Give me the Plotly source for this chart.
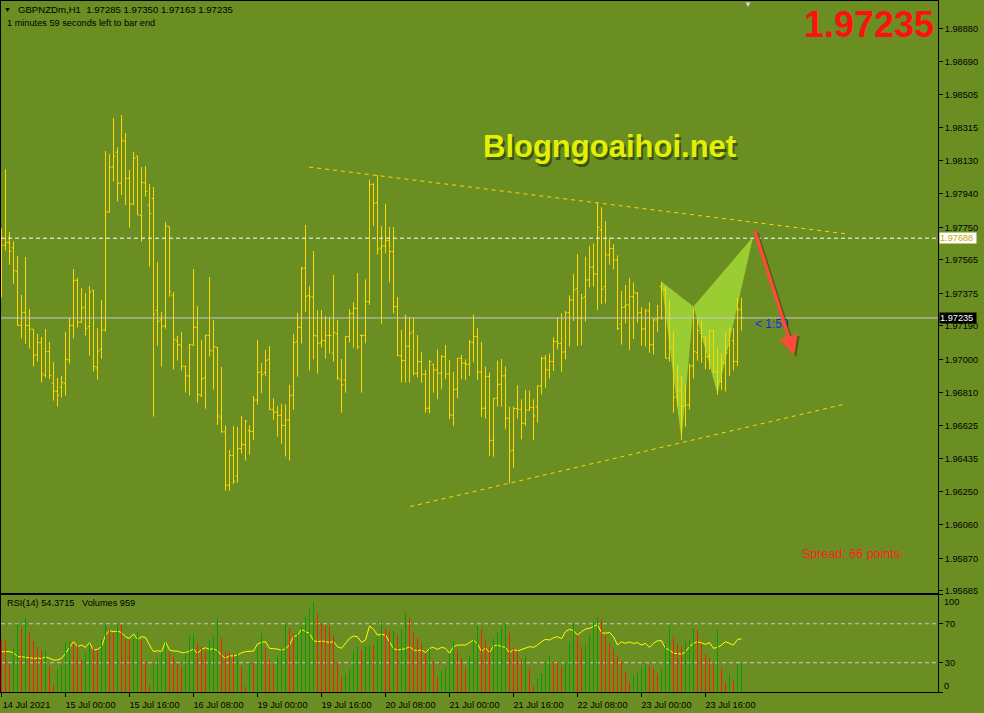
import plotly.graph_objects as go

symbol = "GBPNZDm,H1"

# H1 bars, oldest first (14 Jul 2021 08:00 .. 23 Jul 2021)
opens = [
    1.97413, 1.97648, 1.97663, 1.97633, 1.97500, 1.97193, 1.97267, 1.97193, 1.97171, 1.97027,
    1.97095, 1.96909, 1.97044, 1.96864, 1.96819, 1.96841, 1.96864, 1.96997, 1.97193, 1.97449,
    1.97212, 1.97296, 1.97186, 1.97392, 1.96951, 1.97057, 1.97167, 1.97837, 1.98094, 1.98176,
    1.98000, 1.98238, 1.98028, 1.97882, 1.98155, 1.97818, 1.98003, 1.97875, 1.97913, 1.97278,
    1.97224, 1.97190, 1.97754, 1.97364, 1.97106, 1.97080, 1.96961, 1.96906, 1.97080, 1.97182,
    1.96796, 1.96894, 1.97136, 1.97049, 1.97068, 1.96667, 1.96588, 1.96285, 1.96455, 1.96338,
    1.96493, 1.96516, 1.96595, 1.96591, 1.96769, 1.96928, 1.96925, 1.97000, 1.96716, 1.96701,
    1.96682, 1.96625, 1.96656, 1.96796, 1.97102, 1.97182, 1.97517, 1.97362, 1.97354, 1.97133,
    1.97095, 1.97106, 1.97136,
    1.97034, 1.97144, 1.96883, 1.96883, 1.97129, 1.97261, 1.97290, 1.97136, 1.97136, 1.97328,
    1.97994, 1.97890, 1.97632, 1.97644, 1.97674, 1.97612, 1.97299, 1.97021, 1.96993, 1.97074,
    1.97157, 1.96921, 1.96987, 1.96915, 1.96722, 1.96972, 1.96940, 1.96921, 1.97015, 1.96917,
    1.96684, 1.96830, 1.97006, 1.96978, 1.96972, 1.97097, 1.97129, 1.96928, 1.96722, 1.96902,
    1.96540, 1.96779, 1.96858, 1.96906, 1.96665, 1.96485, 1.96720, 1.96716, 1.96637, 1.96711,
    1.96726, 1.96731, 1.96849, 1.97006, 1.96940, 1.96987, 1.97101, 1.97091, 1.97042, 1.97265,
    1.97337, 1.97403, 1.97233, 1.97356, 1.97451, 1.97523, 1.97485, 1.97735, 1.97413, 1.97593,
    1.97629, 1.97564, 1.97201, 1.97299, 1.97309, 1.97356, 1.97375, 1.97265, 1.97173, 1.97275,
    1.97082, 1.97224,
    1.97413, 1.97398, 1.97006, 1.97072, 1.96785, 1.96822, 1.96737, 1.96741, 1.96962, 1.97038,
    1.97148, 1.97129, 1.97015, 1.97163, 1.96928, 1.96874, 1.96981, 1.97076, 1.97106, 1.96987,
    1.97285,
]
highs = [
    1.97744, 1.98079, 1.97723, 1.97670, 1.97587, 1.97366, 1.97581, 1.97286, 1.97171, 1.97144,
    1.97127, 1.97173, 1.97099, 1.96985, 1.96894, 1.96906, 1.97156, 1.97235, 1.97513, 1.97462,
    1.97405, 1.97377, 1.97417, 1.97394, 1.97178, 1.97337, 1.98183, 1.98166, 1.98371, 1.98204,
    1.98388, 1.98286, 1.98075, 1.98178, 1.98155, 1.98092, 1.98098, 1.97996, 1.97979, 1.97553,
    1.97269, 1.97780, 1.97754, 1.97381, 1.97133, 1.97157, 1.96962, 1.97087, 1.97513, 1.97303,
    1.97110, 1.97140, 1.97468, 1.97224, 1.97070, 1.96957, 1.96625, 1.96485, 1.96622, 1.96616,
    1.96678, 1.96656, 1.96624, 1.96792, 1.97110, 1.96979, 1.97053, 1.97076, 1.96779, 1.96735,
    1.96747, 1.96743, 1.96855, 1.97144, 1.97263, 1.97525, 1.97763, 1.97417, 1.97616, 1.97279,
    1.97280, 1.97246, 1.97239,
    1.97479, 1.97224, 1.97002, 1.97133, 1.97286, 1.97326, 1.97490, 1.97140, 1.97454, 1.98022,
    1.97999, 1.98047, 1.97757, 1.97882, 1.97752, 1.97752, 1.97354, 1.97167, 1.97254, 1.97239,
    1.97239, 1.97138, 1.97042, 1.96940, 1.96996, 1.96972, 1.97057, 1.97025, 1.97082, 1.96996,
    1.96930, 1.97008, 1.97025, 1.97000, 1.97110, 1.97254, 1.97176, 1.97099, 1.96959, 1.96925,
    1.96779, 1.96993, 1.97002, 1.96959, 1.96731, 1.96731, 1.96853, 1.96773, 1.96826, 1.96822,
    1.96773, 1.96851, 1.97015, 1.97025, 1.97034, 1.97125, 1.97237, 1.97261, 1.97275, 1.97364,
    1.97485, 1.97598, 1.97373, 1.97583, 1.97644, 1.97659, 1.97892, 1.97863, 1.97786, 1.97693,
    1.97653, 1.97591, 1.97388, 1.97422, 1.97462, 1.97436, 1.97383, 1.97297, 1.97288, 1.97324,
    1.97231, 1.97309,
    1.97441, 1.97413, 1.97337, 1.97157, 1.96968, 1.96906, 1.96855, 1.96974, 1.97290, 1.97228,
    1.97224, 1.97129, 1.97167, 1.97167, 1.97063, 1.97034, 1.97157, 1.97182, 1.97176, 1.97347,
    1.97350,
]
lows = [
    1.97351, 1.97617, 1.97538, 1.97430, 1.97191, 1.97118, 1.97089, 1.97061, 1.96959, 1.96987,
    1.96868, 1.96896, 1.96887, 1.96766, 1.96731, 1.96783, 1.96794, 1.96976, 1.97118, 1.97180,
    1.97208, 1.97135, 1.97021, 1.96930, 1.96885, 1.97004, 1.97157, 1.97833, 1.98009, 1.97896,
    1.97933, 1.97877, 1.97748, 1.97877, 1.97820, 1.97668, 1.97924, 1.97526, 1.96675, 1.97076,
    1.96959, 1.97174, 1.97356, 1.96942, 1.96993, 1.96936, 1.96811, 1.96794, 1.97078, 1.96754,
    1.96786, 1.96720, 1.97015, 1.96828, 1.96627, 1.96584, 1.96254, 1.96254, 1.96292, 1.96300,
    1.96463, 1.96425, 1.96459, 1.96542, 1.96743, 1.96809, 1.96904, 1.96713, 1.96656, 1.96561,
    1.96521, 1.96448, 1.96425, 1.96714, 1.96902, 1.97089, 1.97269, 1.96936, 1.97000, 1.96919,
    1.97068, 1.97004, 1.97034,
    1.96987, 1.96883, 1.96697, 1.96811, 1.97095, 1.97066, 1.97057, 1.96811, 1.97091, 1.97309,
    1.97757, 1.97596, 1.97203, 1.97602, 1.97436, 1.97261, 1.97019, 1.96868, 1.96868, 1.96868,
    1.96909, 1.96898, 1.96868, 1.96697, 1.96692, 1.96811, 1.96773, 1.96830, 1.96887, 1.96660,
    1.96622, 1.96779, 1.96887, 1.96883, 1.96906, 1.96983, 1.96883, 1.96673, 1.96663, 1.96451,
    1.96447, 1.96731, 1.96731, 1.96603, 1.96296, 1.96385, 1.96663, 1.96546, 1.96622, 1.96709,
    1.96542, 1.96641, 1.96801, 1.96839, 1.96890, 1.96934, 1.97057, 1.96930, 1.97000, 1.97072,
    1.97218, 1.97076, 1.97080, 1.97214, 1.97409, 1.97413, 1.97280, 1.97314, 1.97318, 1.97538,
    1.97511, 1.97167, 1.97084, 1.97205, 1.97053, 1.97116, 1.97208, 1.97078, 1.97072, 1.97038,
    1.97027, 1.97157,
    1.97224, 1.97006, 1.96987, 1.96697, 1.96732, 1.96542, 1.96618, 1.96716, 1.96892, 1.96993,
    1.96981, 1.96944, 1.96940, 1.96925, 1.96798, 1.96826, 1.96817, 1.96906, 1.96936, 1.96962,
    1.97163,
]
closes = [
    1.97648, 1.97663, 1.97614, 1.97504, 1.97193, 1.97267, 1.97193, 1.97171, 1.97023, 1.97095,
    1.96917, 1.97044, 1.96909, 1.96819, 1.96796, 1.96868, 1.97000, 1.97193, 1.97449, 1.97210,
    1.97290, 1.97176, 1.97381, 1.96959, 1.97046, 1.97167, 1.97837, 1.98092, 1.98153, 1.98000,
    1.98242, 1.98028, 1.97882, 1.98142, 1.97820, 1.98003, 1.97954, 1.97829, 1.97256, 1.97216,
    1.97186, 1.97757, 1.97383, 1.97114, 1.97084, 1.96961, 1.96906, 1.97084, 1.97182, 1.96800,
    1.96890, 1.97136, 1.97049, 1.97072, 1.96678, 1.96588, 1.96285, 1.96455, 1.96307, 1.96493,
    1.96516, 1.96648, 1.96591, 1.96769, 1.96925, 1.96913, 1.96993, 1.96716, 1.96701, 1.96682,
    1.96625, 1.96656, 1.96796, 1.97095, 1.97182, 1.97517, 1.97358, 1.97354, 1.97136, 1.97091,
    1.97106, 1.97136, 1.97136,
    1.97152, 1.96894, 1.96856, 1.97129, 1.97261, 1.97290, 1.97072, 1.97136, 1.97328, 1.97994,
    1.97886, 1.97625, 1.97644, 1.97674, 1.97612, 1.97299, 1.97021, 1.96993, 1.97074, 1.97148,
    1.96921, 1.96987, 1.96915, 1.96722, 1.96987, 1.96940, 1.96921, 1.97015, 1.96917, 1.96684,
    1.96830, 1.97006, 1.96978, 1.96972, 1.97097, 1.97129, 1.96928, 1.96722, 1.96902, 1.96540,
    1.96779, 1.96858, 1.96906, 1.96665, 1.96480, 1.96720, 1.96716, 1.96637, 1.96711, 1.96726,
    1.96678, 1.96849, 1.97006, 1.96940, 1.96987, 1.97101, 1.97091, 1.97042, 1.97265, 1.97337,
    1.97394, 1.97233, 1.97347, 1.97451, 1.97523, 1.97485, 1.97750, 1.97398, 1.97593, 1.97629,
    1.97564, 1.97176, 1.97294, 1.97309, 1.97356, 1.97381, 1.97265, 1.97173, 1.97275, 1.97085,
    1.97224, 1.97233,
    1.97398, 1.97006, 1.97072, 1.96785, 1.96822, 1.96732, 1.96741, 1.96962, 1.97044, 1.97163,
    1.97129, 1.97015, 1.97163, 1.96928, 1.96874, 1.96981, 1.97038, 1.97167, 1.96987, 1.97281,
    1.97235,
]
volumes = [
    1815, 1781, 982, 1496, 2352, 2192, 2534, 2032, 1747, 1530,
    1427, 1438, 890, 240, 788, 925, 1690, 1724, 1667, 1610,
    1096, 1324, 1667, 1530, 1438, 1781, 2295, 2124, 2009, 2352,
    2306, 1815, 1781, 1838, 2066, 1781, 1039, 217, 925, 1153,
    1381, 1724, 1381, 1210, 982, 868, 1347, 1918, 2009, 1667,
    1553, 1381, 1781, 1895, 2500, 1838, 1381, 1381, 1267, 1324,
    868, 183, 1005, 1005, 1553, 2009, 1496, 1096, 925, 1267,
    1496, 2352, 2181, 2009, 2066, 2238, 2580, 2843, 3094, 2672,
    2329, 2295, 2238,
    1918, 1039, 502, 639, 753, 1381, 1530, 1438, 1553, 1610,
    1610, 1895, 2397, 2181, 2066, 2101, 1952, 2146, 2717, 2523,
    2066, 1861, 1667, 1324, 1496, 1073, 502, 719, 833, 1324,
    1747, 1461, 1153, 810, 1244, 1804, 2260, 2146, 1804, 1530,
    1838, 2032, 2260, 2352, 2009, 1530, 1404, 1130, 1244, 810,
    205, 468, 639, 1016, 1267, 1016, 1016, 845, 1027, 1690,
    2352, 1941, 1553, 1610, 1975, 2409, 2557, 2489, 1952, 1667,
    1461, 1256, 1062, 696, 354, 548, 662, 845, 982, 913,
    788, 639,
    788, 1644, 2272, 1895, 1644, 1575, 1724, 1781, 2181, 2124,
    1667, 1301, 1153, 959, 2146, 810, 354, 639, 411, 925,
    959,
]
rsi = [
    41.4, 41.4, 41.4, 40.3, 36.2, 36.2, 35.5, 35.5, 34.5, 34.9,
    34.2, 36.2, 34.5, 32.8, 32.8, 34.5, 39.6, 45.8, 51.6, 46.5,
    48.2, 45.8, 50.6, 43.1, 43.7, 46.5, 58.4, 62.9, 61.9, 62.5,
    60.8, 56.7, 55.0, 59.5, 54.0, 56.7, 56.0, 48.2, 41.4, 42.4,
    41.4, 51.6, 43.1, 42.0, 42.0, 40.3, 40.3, 42.0, 44.1, 39.6,
    43.7, 45.4, 43.7, 44.4, 42.4, 37.9, 34.5, 37.2, 36.9, 37.9,
    40.3, 41.4, 41.4, 42.0, 49.2, 50.9, 51.6, 44.8, 44.4, 44.1,
    42.7, 44.4, 48.2, 56.7, 58.4, 64.3, 61.9, 60.2, 52.6, 51.6,
    52.3, 51.6, 50.9,
    51.6, 46.5, 44.8, 49.9, 55.0, 57.4, 56.7, 50.9, 53.3, 67.7,
    64.3, 58.4, 59.1, 58.4, 50.6, 44.4, 43.1, 43.7, 44.4, 46.5,
    43.1, 42.4, 43.1, 40.3, 44.8, 45.8, 43.7, 45.8, 44.8, 39.6,
    46.5, 48.2, 48.2, 48.2, 50.6, 53.3, 49.2, 41.4, 45.4, 40.3,
    47.2, 48.2, 46.5, 45.8, 40.3, 43.7, 42.0, 43.7, 45.4, 46.5,
    45.8, 48.2, 51.6, 54.0, 53.3, 55.7, 56.7, 54.7, 61.9, 64.3,
    62.9, 58.4, 61.9, 64.6, 65.3, 67.0, 69.0, 60.8, 60.2, 61.2,
    56.7, 48.2, 51.6, 49.9, 51.3, 49.9, 50.6, 48.2, 49.9, 45.8,
    49.9, 52.6,
    52.6, 44.8, 43.1, 39.6, 39.6, 38.6, 41.4, 46.5, 49.9, 51.6,
    49.9, 48.9, 50.6, 44.8, 45.8, 48.2, 51.6, 49.9, 48.2, 54.0,
    54.3715,
]

# time axis labels (bar number -> label)
time_ticks = [0, 16, 32, 48, 64, 80, 96, 112, 128, 144, 160, 176]
time_labels = ["14 Jul 2021", "15 Jul 00:00", "15 Jul 16:00", "16 Jul 08:00",
               "19 Jul 00:00", "19 Jul 16:00", "20 Jul 08:00", "21 Jul 00:00",
               "21 Jul 16:00", "22 Jul 08:00", "23 Jul 00:00", "23 Jul 16:00"]
price_ticks = [1.98880, 1.98690, 1.98505, 1.98315, 1.98130, 1.97940, 1.97750, 1.97565,
               1.97375, 1.97190, 1.97000, 1.96810, 1.96625, 1.96435, 1.96250, 1.96060,
               1.95870, 1.95685]
rsi_levels = [30, 70]

# drawn objects (bar number, price)
level_line = 1.97688
upper_trend_x = [76.9, 211.4]
upper_trend_y = [1.98092, 1.97712]
lower_trend_x = [102.2, 210.9]
lower_trend_y = [1.96164, 1.96746]
pattern_x = [165, 170, 173, 179, 187.9]   # X A B C D
pattern_y = [1.97441, 1.96542, 1.97300, 1.96803, 1.97696]
arrow_x = [188.2, 198.2]
arrow_y = [1.97738, 1.97025]
spread_points = 66

BG = "#6b8e23"
FONT = "Liberation Sans"
x_range = [-0.125, 234.125]   # 4 px per bar, bars on pixel centres
n = len(closes)
bars = list(range(n))


def px(x):
    return (x - 1) / 937


def py(y):
    return (692 - y) / 691


fig = go.Figure()

# lower window: volumes (green when above the previous bar's volume) + RSI
for col, up in [("#00a000", True), ("#ff1a00", False)]:
    vx, vy = [], []
    for i in range(n):
        is_up = i > 0 and volumes[i] > volumes[i - 1]
        if is_up == up:
            vx += [i, i, None]
            vy += [0, volumes[i], None]
    fig.add_trace(go.Scatter(x=vx, y=vy, xaxis="x2", yaxis="y3", mode="lines",
                             line=dict(color=col, width=1)))
for lv in rsi_levels:
    fig.add_trace(go.Scatter(x=x_range, y=[lv, lv], xaxis="x2", yaxis="y2", mode="lines",
                             line=dict(color="#c8c8c8", width=1, dash="4px,3px")))
fig.add_trace(go.Scatter(x=bars, y=rsi, xaxis="x2", yaxis="y2", mode="lines",
                         line=dict(color="#ffff00", width=1)))

# price bars
fig.add_trace(go.Ohlc(x=bars, open=opens, high=highs, low=lows, close=closes,
                      increasing=dict(line=dict(color="#ffd700", width=1)),
                      decreasing=dict(line=dict(color="#ffd700", width=1)),
                      tickwidth=0.45))

fig.add_trace(go.Scatter(x=x_range, y=[closes[-1]] * 2, mode="lines",
                         line=dict(color="#c8c8c8", width=1)))
fig.add_trace(go.Scatter(x=x_range, y=[level_line] * 2, mode="lines",
                         line=dict(color="#ffffff", width=1, dash="4px,3px")))
for tx, ty in [(upper_trend_x, upper_trend_y), (lower_trend_x, lower_trend_y)]:
    fig.add_trace(go.Scatter(x=tx, y=ty, mode="lines",
                             line=dict(color="#ffd700", width=1, dash="4px,4px")))

# harmonic pattern, behind the bars
shapes = []
for tri in [(0, 1, 2), (2, 3, 4)]:
    path = "M " + " L ".join(f"{pattern_x[i]},{pattern_y[i]}" for i in tri) + " Z"
    shapes.append(dict(type="path", path=path, xref="x", yref="y", layer="below",
                       fillcolor="#9acd32", line=dict(width=0)))

small = dict(family=FONT, size=9.2, color="black")
ann = [
    dict(x=px(7), y=py(9), text="▼", font=dict(family=FONT, size=7, color="black"),
         xanchor="center", yanchor="middle"),
    dict(x=px(16), y=py(9),
         text=f"{symbol}\u00a0\u00a0{opens[-1]:.5f} {highs[-1]:.5f} {lows[-1]:.5f} {closes[-1]:.5f}",
         font=dict(family=FONT, size=9.6, color="black"), xanchor="left", yanchor="middle"),
    dict(x=px(5), y=py(23), text="1 minutes 59 seconds left to bar end", font=small,
         xanchor="left", yanchor="middle"),
    dict(x=px(748), y=py(5), text="▼", font=dict(family=FONT, size=8, color="#d8d8d8"),
         xanchor="center", yanchor="middle"),
    dict(x=px(936), y=py(24), text=f"<b>{closes[-1]:.5f}</b>",
         font=dict(family=FONT, size=36, color="#ff1010"), xanchor="right", yanchor="middle"),
    dict(x=px(609), y=py(146), text="<b>Blogngoaihoi.net</b>", xshift=2, yshift=-3,
         font=dict(family=FONT, size=31, color="rgba(45,65,10,0.75)"),
         xanchor="center", yanchor="middle"),
    dict(x=px(609), y=py(146), text="<b>Blogngoaihoi.net</b>",
         font=dict(family=FONT, size=31, color="#e2f005"), xanchor="center", yanchor="middle"),
    dict(x=px(753), y=py(324), text="< 1:59", font=dict(family=FONT, size=12, color="#1e1eff"),
         xanchor="left", yanchor="middle"),
    dict(x=px(800), y=py(554), text=f"Spread: {spread_points} points.",
         font=dict(family=FONT, size=12.5, color="#ff2020"), xanchor="left", yanchor="middle"),
    dict(x=px(5), y=py(603),
         text=f"RSI(14) {rsi[-1]:.4f}\u00a0\u00a0\u00a0Volumes {volumes[-1]}",
         font=small, xanchor="left", yanchor="middle"),
    dict(x=px(942), y=py(602), text="100", font=small, xanchor="left", yanchor="middle"),
    dict(x=px(942), y=py(686), text="0", font=small, xanchor="left", yanchor="middle"),
    dict(x=px(939), y=level_line, yref="y", text=f"{level_line:.5f}\u00a0", bgcolor="#ffffff",
         font=dict(family=FONT, size=9.2, color="#c8a800"), xanchor="left", yanchor="middle",
         borderpad=0),
    dict(x=px(939), y=closes[-1], yref="y", text=f"{closes[-1]:.5f}\u00a0", bgcolor="#000000",
         font=dict(family=FONT, size=9.2, color="#ffffff"), xanchor="left", yanchor="middle",
         borderpad=0),
    # sell arrow with its shadow
    dict(x=arrow_x[1], y=arrow_y[1], ax=arrow_x[0], ay=arrow_y[0], xref="x", yref="y",
         axref="x", ayref="y", text="", showarrow=True, arrowhead=2, arrowsize=1.1,
         arrowwidth=3.5, arrowcolor="rgba(40,60,10,0.55)", xshift=2, yshift=-2),
    dict(x=arrow_x[1], y=arrow_y[1], ax=arrow_x[0], ay=arrow_y[0], xref="x", yref="y",
         axref="x", ayref="y", text="", showarrow=True, arrowhead=2, arrowsize=1.1,
         arrowwidth=3.5, arrowcolor="#ff4a3a"),
]
for a in ann:
    a.setdefault("xref", "paper")
    a.setdefault("yref", "paper")
    a.setdefault("showarrow", False)

main_top = 1.0
main_bottom = py(593)
rsi_top = py(594.5)

fig.update_layout(
    width=984, height=713,
    margin=dict(l=1, r=46, t=1, b=21),
    paper_bgcolor=BG, plot_bgcolor=BG,
    showlegend=False, hovermode=False,
    font=dict(family=FONT, size=9, color="black"),
    shapes=shapes, annotations=ann,
    xaxis=dict(domain=[0, 1], range=x_range, anchor="y", showticklabels=False, ticks="",
               showgrid=False, zeroline=False, showline=True, mirror=True,
               linecolor="black", linewidth=1, rangeslider=dict(visible=False)),
    yaxis=dict(domain=[main_bottom, main_top], range=[1.95673, 1.99035], side="right",
               tickvals=price_ticks, ticktext=[f"{v:.5f}" for v in price_ticks],
               ticks="outside", ticklen=4, tickcolor="black", showgrid=False,
               zeroline=False, showline=True, mirror=True, linecolor="black", linewidth=1,
               tickfont=small),
    xaxis2=dict(domain=[0, 1], range=x_range, anchor="y2", tickvals=time_ticks,
                ticktext=time_labels, ticks="outside", ticklen=4, tickcolor="black",
                ticklabelshift=25, tickfont=small, showgrid=False, zeroline=False,
                showline=True, mirror=True, linecolor="black", linewidth=1),
    yaxis2=dict(domain=[0, rsi_top], range=[0, 100], side="right", anchor="x2",
                tickvals=[0, 30, 70, 100], ticktext=["", "30", "70", ""],
                ticks="outside", ticklen=4, tickcolor="black", tickfont=small,
                showgrid=False, zeroline=False, showline=True, mirror=True,
                linecolor="black", linewidth=1),
    yaxis3=dict(overlaying="y2", range=[0, 3339], visible=False, anchor="x2"),
)

# the page body has a default 8px margin; drop it so the chart fills the window
fig.write_html("out.html", config={"displayModeBar": False},
               post_script="document.body.style.margin='0';"
                           "document.body.style.background='" + BG + "';")
